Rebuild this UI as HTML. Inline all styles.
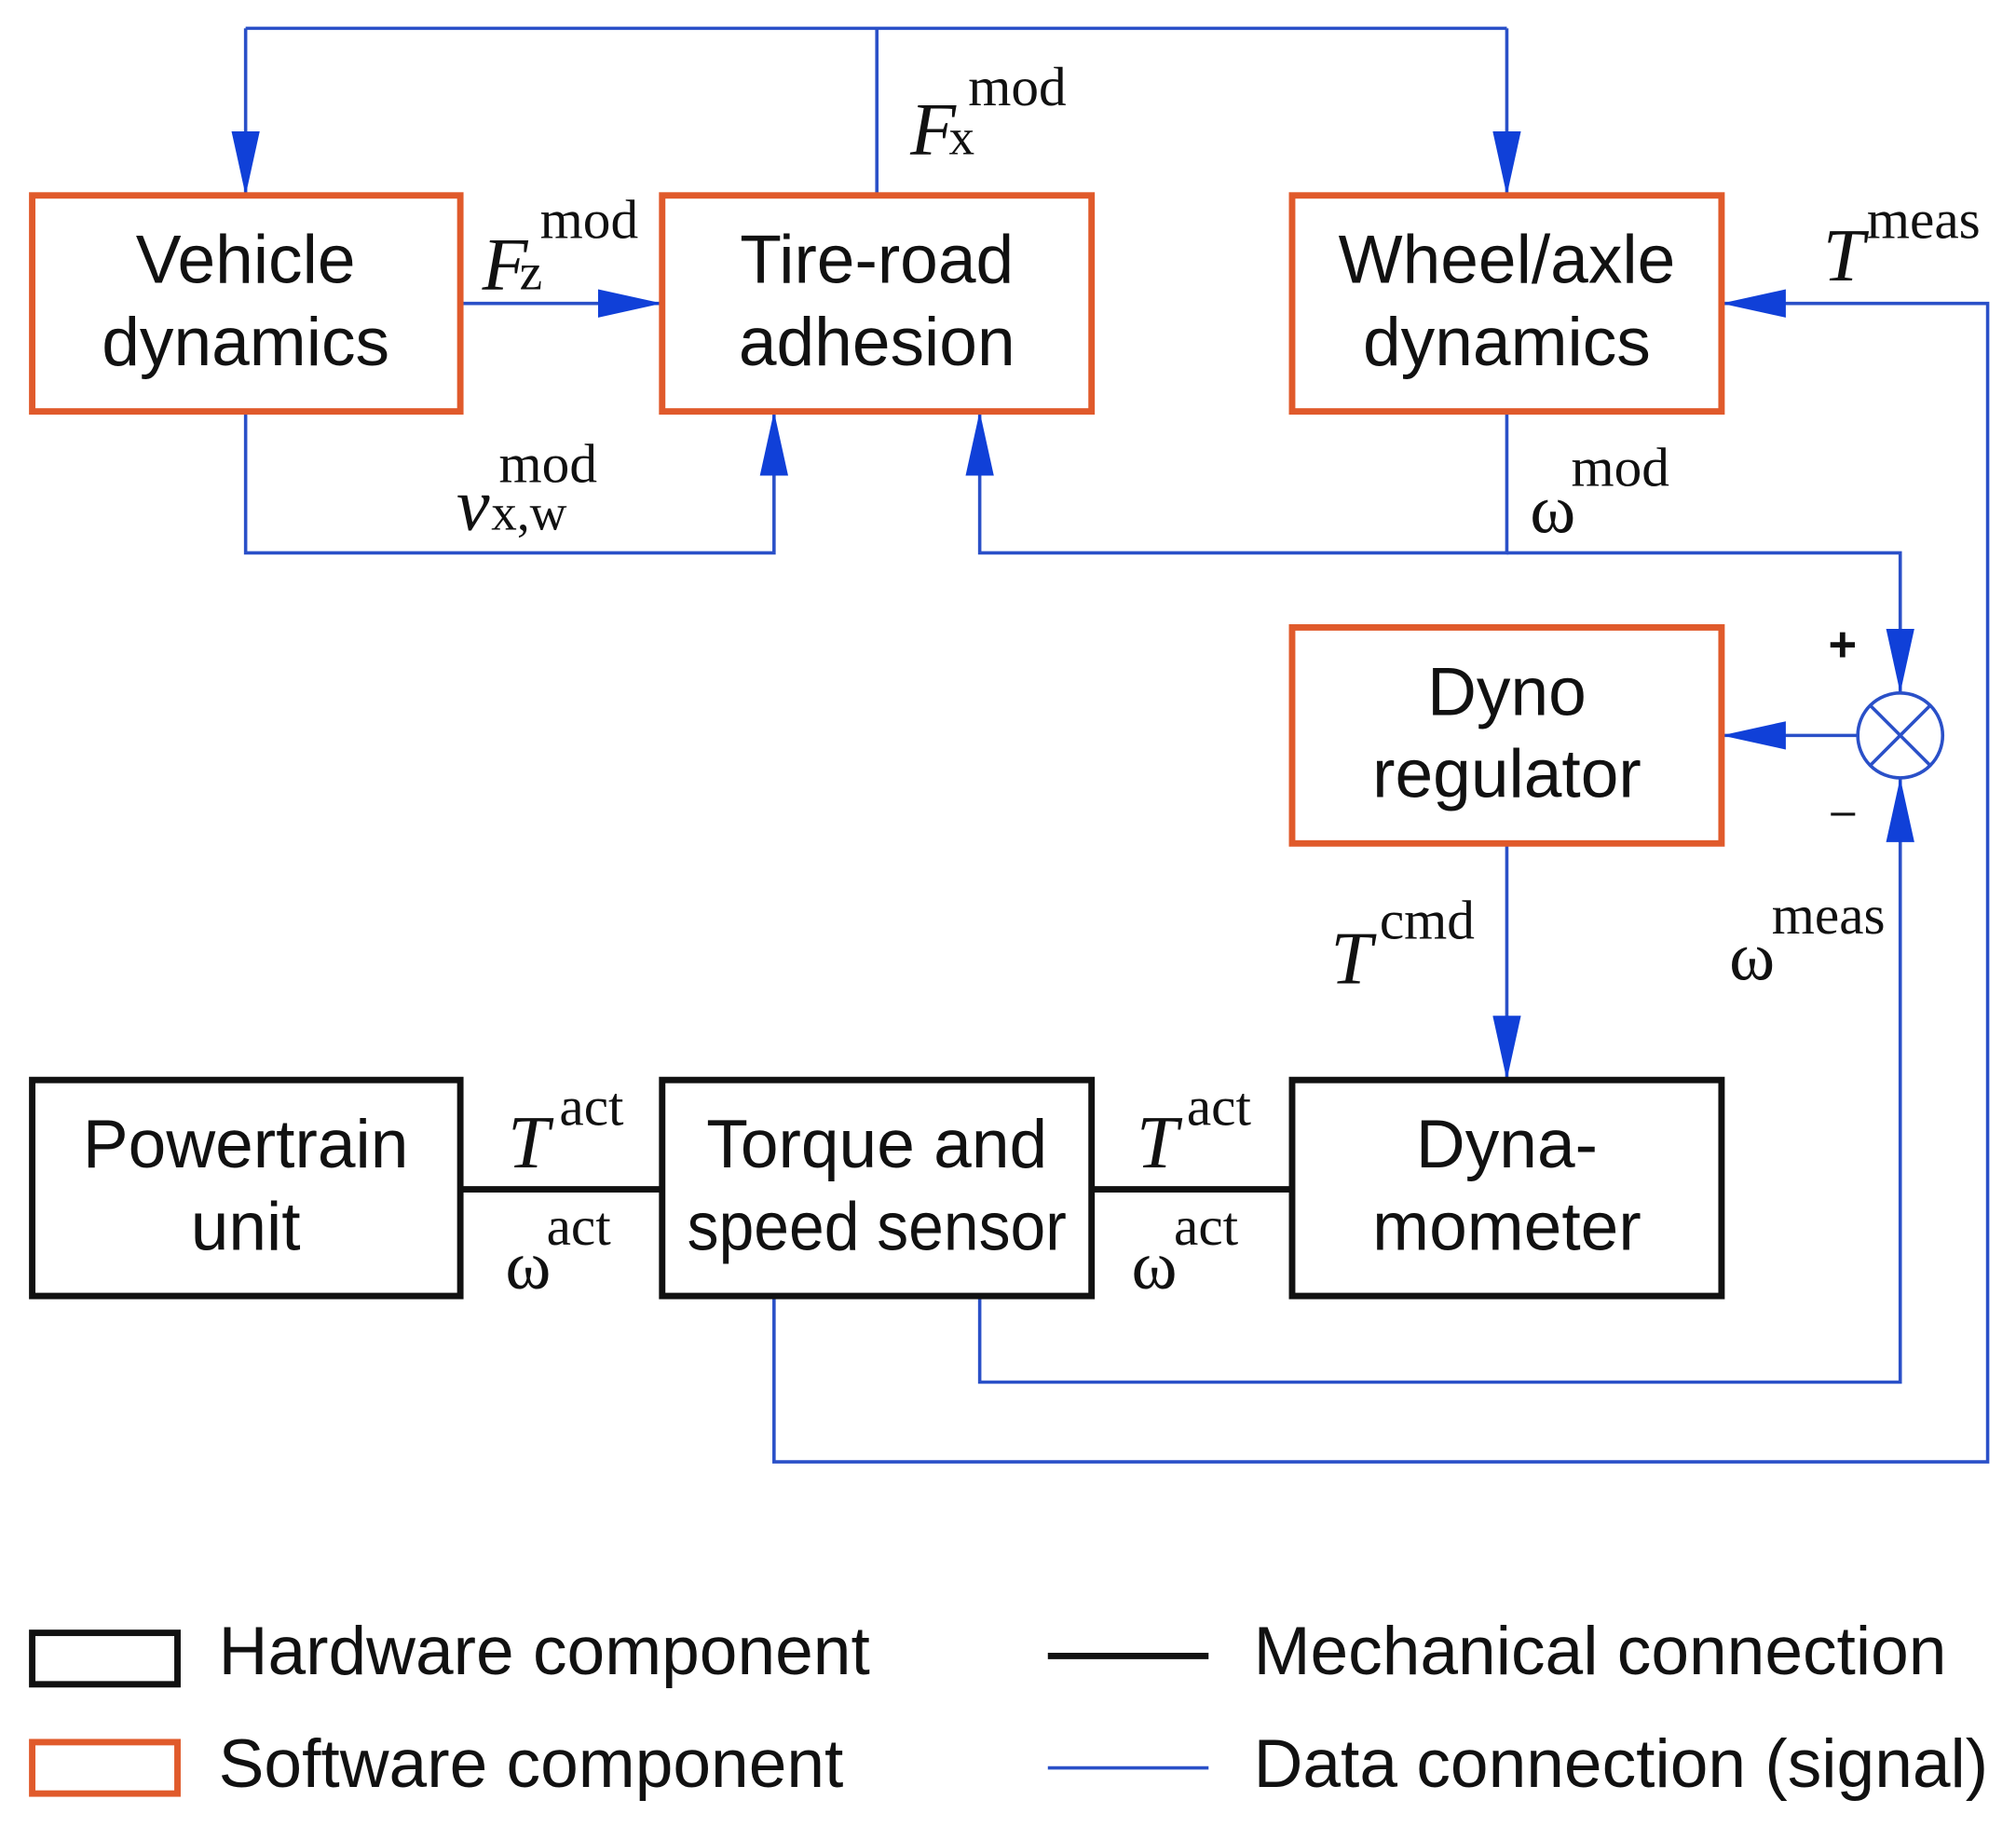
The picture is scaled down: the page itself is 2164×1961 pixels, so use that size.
<!DOCTYPE html>
<html><head><meta charset="utf-8"><style>html,body{margin:0;padding:0;background:#fff}svg{display:block}</style></head>
<body>
<svg width="2164" height="1961" viewBox="0 0 1568 1421" xmlns="http://www.w3.org/2000/svg">
<defs>
<marker id="a" viewBox="0 0 50 22" refX="50" refY="11" markerWidth="50" markerHeight="22" markerUnits="userSpaceOnUse" orient="auto"><path d="M0,0 L50,11 L0,22 Z" fill="#1040d8"/></marker>
</defs>
<g fill="none" stroke="#2a50c8" stroke-width="2.6">
<polyline points="191,22 1172,22"/>
<line x1="191" y1="22" x2="191" y2="152" marker-end="url(#a)"/>
<line x1="682" y1="22" x2="682" y2="152"/>
<line x1="1172" y1="22" x2="1172" y2="152" marker-end="url(#a)"/>
<line x1="358" y1="236" x2="515" y2="236" marker-end="url(#a)"/>
<polyline points="191,320 191,430 602,430 602,320" marker-end="url(#a)"/>
<polyline points="1172,320 1172,430 762,430 762,320" marker-end="url(#a)"/>
<polyline points="1172,430 1478,430 1478,539" marker-end="url(#a)"/>
<line x1="1445" y1="572" x2="1339" y2="572" marker-end="url(#a)"/>
<line x1="1172" y1="656" x2="1172" y2="840" marker-end="url(#a)"/>
<polyline points="762,1008 762,1075 1478,1075 1478,605" marker-end="url(#a)"/>
<polyline points="602,1008 602,1137 1546,1137 1546,236 1339,236" marker-end="url(#a)"/>
<circle cx="1478" cy="572" r="33"/>
<line x1="1455" y1="549" x2="1501" y2="595"/>
<line x1="1501" y1="549" x2="1455" y2="595"/>
<line x1="815" y1="1375" x2="940" y2="1375"/>
</g>
<g fill="none" stroke="#111" stroke-width="5">
<line x1="358" y1="925" x2="515" y2="925"/>
<line x1="849" y1="925" x2="1005" y2="925"/>
<rect x="25" y="840" width="333" height="168"/>
<rect x="515" y="840" width="334" height="168"/>
<rect x="1005" y="840" width="334" height="168"/>
<rect x="25" y="1270" width="113" height="40"/>
<line x1="815" y1="1288" x2="940" y2="1288"/>
</g>
<g fill="#fff" stroke="#e05a2b" stroke-width="5">
<rect x="25" y="152" width="333" height="168"/>
<rect x="515" y="152" width="334" height="168"/>
<rect x="1005" y="152" width="334" height="168"/>
<rect x="1005" y="488" width="334" height="168"/>
<rect x="25" y="1355" width="113" height="40" fill="none"/>
</g>
<g font-family="Liberation Sans, sans-serif" font-size="53" fill="#111" text-anchor="middle">
<text x="191" y="220">Vehicle</text><text x="191" y="284">dynamics</text>
<text x="682" y="220">Tire-road</text><text x="682" y="284">adhesion</text>
<text x="1172" y="220">Wheel/axle</text><text x="1172" y="284">dynamics</text>
<text x="1172" y="556">Dyno</text><text x="1172" y="620">regulator</text>
<text x="191" y="908">Powertrain</text><text x="191" y="972">unit</text>
<text x="682" y="908">Torque and</text><text x="682" y="972" textLength="295" lengthAdjust="spacingAndGlyphs">speed sensor</text>
<text x="1172" y="908">Dyna-</text><text x="1172" y="972">mometer</text>
</g>
<g font-family="Liberation Sans, sans-serif" font-size="53" fill="#111">
<text x="170" y="1302">Hardware component</text>
<text x="170" y="1390">Software component</text>
<text x="975" y="1302">Mechanical connection</text>
<text x="975" y="1390">Data connection (signal)</text>
<text x="1422" y="514" font-size="38" font-weight="bold">+</text>
<text x="1424" y="642" font-size="34">–</text>
</g>
<g font-family="Liberation Serif, serif" fill="#111">
<text x="375" y="225" font-size="58" font-style="italic">F</text><text x="404" y="225" font-size="40">z</text><text x="420" y="185" font-size="43">mod</text>
<text x="708" y="120" font-size="58" font-style="italic">F</text><text x="738" y="120" font-size="40">x</text><text x="753" y="82" font-size="43">mod</text>
<text x="355" y="412" font-size="58" font-style="italic">v</text><text x="382" y="412" font-size="40">x,w</text><text x="388" y="375" font-size="43">mod</text>
<text x="1190" y="414" font-size="54">ω</text><text x="1222" y="378" font-size="43">mod</text>
<text x="1418" y="218" font-size="58" font-style="italic">T</text><text x="1452" y="185" font-size="43">meas</text>
<text x="1035" y="765" font-size="58" font-style="italic">T</text><text x="1073" y="730" font-size="43">cmd</text>
<text x="1345" y="762" font-size="54">ω</text><text x="1378" y="726" font-size="43">meas</text>
<text x="395" y="908" font-size="58" font-style="italic">T</text><text x="435" y="875" font-size="43">act</text>
<text x="393" y="1002" font-size="54">ω</text><text x="425" y="968" font-size="43">act</text>
<text x="884" y="908" font-size="58" font-style="italic">T</text><text x="923" y="875" font-size="43">act</text>
<text x="880" y="1002" font-size="54">ω</text><text x="913" y="968" font-size="43">act</text>
</g>
</svg>
</body></html>
